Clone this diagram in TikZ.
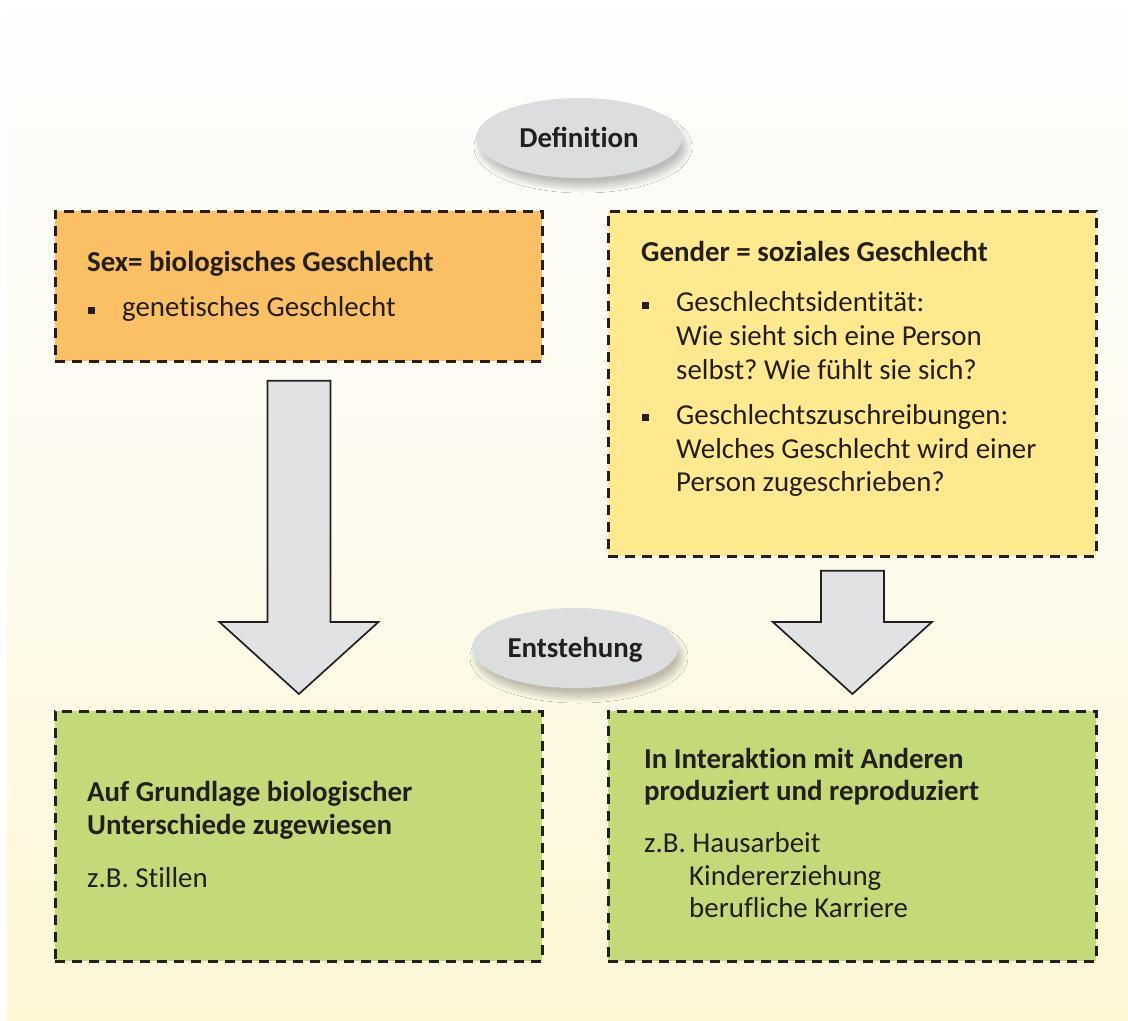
\documentclass[tikz,border=0pt]{standalone}
\usepackage{fontspec}
\setmainfont{Carlito}[Ligatures=NoCommon]
\usetikzlibrary{shapes.geometric,shadows.blur,calc}
\definecolor{orangebox}{HTML}{FBC064}
\definecolor{yellowbox}{HTML}{FFE98F}
\definecolor{greenbox}{HTML}{C4D977}
\definecolor{ellgray}{HTML}{DCDDDF}
\definecolor{arrgray}{HTML}{E1E2E4}
\definecolor{ink}{HTML}{231F20}
\definecolor{bgtop}{HTML}{FDFDFD}
\definecolor{bgbottom}{HTML}{FEF7D4}
\tikzset{
  box/.style={draw=ink, line width=2.8bp, dash pattern=on 10bp off 7bp, inner sep=0pt, anchor=north west},
  txt/.style={anchor=base west, inner sep=0pt, text=ink, font=\fontsize{29}{34}\selectfont\frenchspacing},
  btxt/.style={txt, font=\fontsize{29}{34}\selectfont\bfseries\frenchspacing},
  bsq/.style={fill=ink, inner sep=0pt, minimum size=7bp},
  ell/.style={ellipse, fill=ellgray, inner sep=0pt, minimum width=206bp, minimum height=80bp,
     blur shadow={shadow xshift=4bp, shadow yshift=-9bp, shadow blur radius=6bp, shadow blur steps=20, shadow opacity=25}},
  bigarrow/.style={fill=arrgray, draw=ink, line width=1.7bp, line join=miter}
}
\begin{document}
\begin{tikzpicture}[x=1bp,y=-1bp]
\useasboundingbox (0,0) rectangle (1128,1021);
\shade[top color=bgtop, bottom color=bgbottom, middle color=bgtop!65!bgbottom] (7,10) rectangle (1128,1021);

% boxes
\node[box, fill=orangebox, minimum width=487bp, minimum height=150bp] (sex) at (54,210) {};
\node[box, fill=yellowbox, minimum width=488bp, minimum height=345bp] (gender) at (607,210) {};
\node[box, fill=greenbox, minimum width=487bp, minimum height=250bp] (bio) at (54,710) {};
\node[box, fill=greenbox, minimum width=488bp, minimum height=250bp] (soz) at (607,710) {};

% ellipses
\node[ell] (defn) at (579,138) {};
\node[btxt, anchor=base] (deft) at (579,147.5) {De\symbol{"FB01}nition};
\node[ell] (entn) at (575,648) {};
\node[btxt, anchor=base] (entt) at (575,657) {Entstehung};

% arrows
\coordinate (la1) at ($(sex.south)+(-31.5,18)$);
\coordinate (la2) at ($(sex.south)+(31.5,18)$);
\coordinate (latip) at ($(bio.north)+(0,-16)$);
\draw[bigarrow] (la1) -- (la2) -- (la2 |- 0,622) -- ++(48,0) -- (latip) -- ($(la1 |- 0,622)+(-48,0)$) -- (la1 |- 0,622) -- cycle;
\coordinate (ra1) at ($(gender.south)+(-31.5,13)$);
\coordinate (ra2) at ($(gender.south)+(31.5,13)$);
\coordinate (ratip) at ($(soz.north)+(0,-16)$);
\draw[bigarrow] (ra1) -- (ra2) -- (ra2 |- 0,622) -- ++(48,0) -- (ratip) -- ($(ra1 |- 0,622)+(-48,0)$) -- (ra1 |- 0,622) -- cycle;

% sex box text
\node[btxt] (s1) at (87,271.7) {Sex= biologisches Geschlecht};
\node[bsq] (sb1) at (91.5,310) {};
\node[txt] (s2) at (122,316.7) {genetisches Geschlecht};

% gender box text
\node[btxt] (g0) at (641,261.7) {Gender = soziales Geschlecht};
\node[bsq] (gb1) at (645.5,305.5) {};
\node[txt] (g1) at (676,311.7) {Geschlechtsidentität:};
\node[txt] (g2) at (676,345.7) {Wie sieht sich eine Person};
\node[txt] (g3) at (676,379.5) {selbst? Wie fühlt sie sich?};
\node[bsq] (gb2) at (645.5,417.5) {};
\node[txt] (g4) at (676,424) {Geschlechtszuschreibungen:};
\node[txt] (g5) at (676,458) {Welches Geschlecht wird einer};
\node[txt] (g6) at (676,491.7) {Person zugeschrieben?};

% bio box text
\node[btxt] (b1) at (87,801.7) {Auf Grundlage biologischer};
\node[btxt] (b2) at (87,834) {Unterschiede zugewiesen};
\node[txt] (b3) at (87,887) {z.B. Stillen};

% soz box text
\node[btxt] (z1) at (644,768) {In Interaktion mit Anderen};
\node[btxt] (z2) at (644,800) {produziert und reproduziert};
\node[txt] (z3) at (644,852) {z.B. Hausarbeit};
\node[txt] (z4) at (689,885) {Kindererziehung};
\node[txt] (z5) at (689,917) {berufliche Karriere};
\end{tikzpicture}
\end{document}
